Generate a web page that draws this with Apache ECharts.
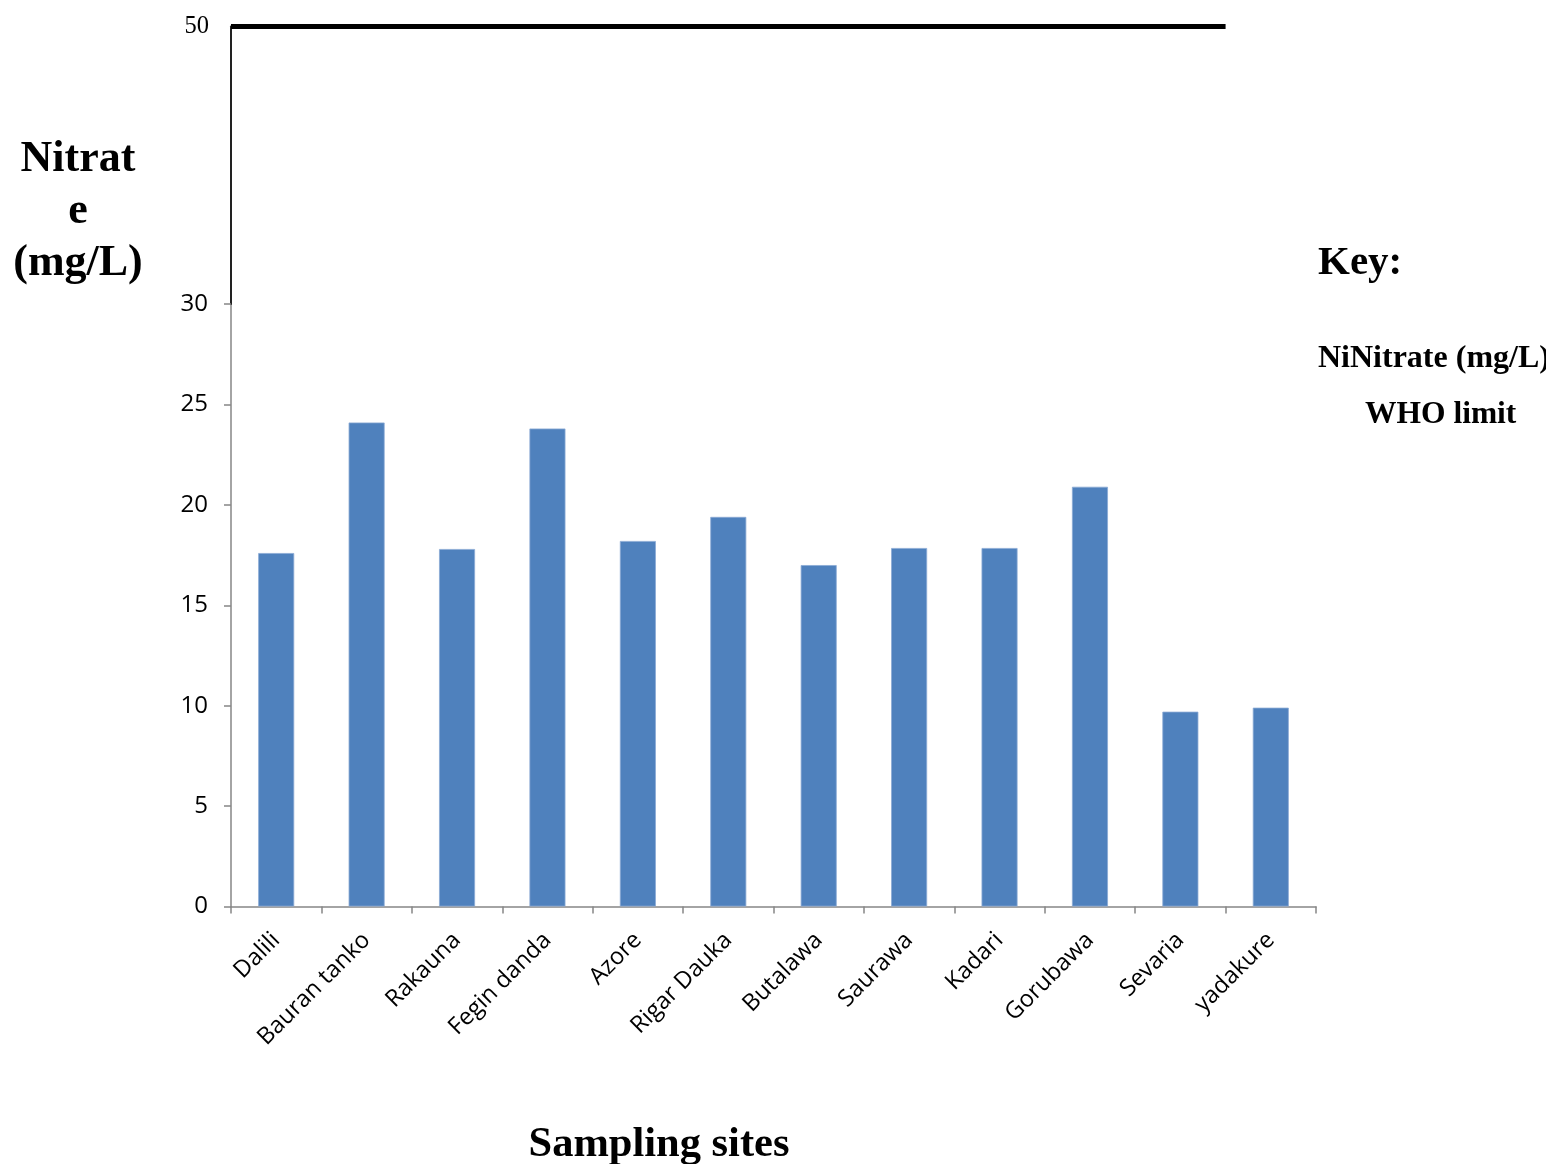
<!DOCTYPE html>
<html>
<head>
<meta charset="utf-8">
<script src="https://cdn.jsdelivr.net/npm/echarts@6/dist/echarts.min.js"></script>
<style>
html,body{margin:0;padding:0;background:#fff;}
#chart{width:1546px;height:1164px;}
</style>
</head>
<body>
<div id="chart"></div>
<script>
var categories = ['Dalili','Bauran tanko','Rakauna','Fegin danda','Azore','Rigar Dauka','Butalawa','Saurawa','Kadari','Gorubawa','Sevaria','yadakure'];
var nitrateValues = [17.6, 24.1, 17.8, 23.8, 18.2, 19.4, 17.0, 17.85, 17.85, 20.9, 9.7, 9.9];
var yTicks = [0, 30, 5];
var whoLimit = 50;
var whoLimitSpan = [0, 11];

var chart = echarts.init(document.getElementById('chart'));
var serif = '"Liberation Serif", "Times New Roman", serif';
var sans = '"Open Sans", sans-serif';

chart.setOption({
  backgroundColor: '#fff',
  animation: false,
  grid: [
    {left: 231, width: 1085, top: 304, height: 602.5},
    {left: 231, width: 1085, top: 26.5, height: 277.5}
  ],
  xAxis: [
    {
      type: 'category', gridIndex: 0, data: categories, boundaryGap: true,
      axisLine: {show: true, lineStyle: {color: '#868686', width: 1.5}},
      axisTick: {show: true, length: 7, lineStyle: {color: '#868686', width: 1.5}},
      axisLabel: {rotate: 45, fontFamily: sans, fontSize: 23.5, color: '#000', margin: 30, interval: 0},
      splitLine: {show: false}
    },
    {type: 'value', gridIndex: 1, min: 0, max: categories.length, show: false}
  ],
  yAxis: [
    {
      type: 'value', gridIndex: 0, min: yTicks[0], max: yTicks[1], interval: yTicks[2],
      axisLine: {show: true, lineStyle: {color: '#868686', width: 1.5}},
      axisTick: {show: true, length: 7, lineStyle: {color: '#868686', width: 1.5}},
      axisLabel: {fontFamily: sans, fontSize: 24, color: '#000', margin: 23},
      splitLine: {show: false}
    },
    {
      type: 'value', gridIndex: 1, min: 30, max: whoLimit, interval: 10,
      axisLine: {show: true, lineStyle: {color: '#222', width: 2}},
      axisTick: {show: false},
      axisLabel: {fontFamily: serif, fontSize: 24.5, color: '#000', margin: 22,
        formatter: function (v) { return v === whoLimit ? String(v) : ''; }},
      splitLine: {show: false}
    }
  ],
  series: [
    {
      name: 'Nitrate (mg/L)', type: 'bar', xAxisIndex: 0, yAxisIndex: 0,
      data: nitrateValues, barWidth: 36,
      itemStyle: {color: '#4F81BD', borderColor: '#8aa9d4', borderWidth: 0.8}
    },
    {
      name: 'WHO limit', type: 'line', xAxisIndex: 1, yAxisIndex: 1,
      data: [[whoLimitSpan[0], whoLimit], [whoLimitSpan[1], whoLimit]],
      symbol: 'none', clip: false,
      lineStyle: {color: '#000', width: 5, cap: 'butt'}
    }
  ],
  graphic: [
    {type: 'text', x: 78, y: 212, style: {text: 'Nitrat\ne\n(mg/L)', font: 'bold 44px ' + serif, fill: '#000', align: 'center', verticalAlign: 'middle', lineHeight: 52}},
    {type: 'text', x: 1318, y: 263, style: {text: 'Key:', font: 'bold 41px ' + serif, fill: '#000', align: 'left', verticalAlign: 'middle'}},
    {type: 'text', x: 1318, y: 359, style: {text: 'NiNitrate (mg/L)', font: 'bold 32px ' + serif, fill: '#000', align: 'left', verticalAlign: 'middle'}},
    {type: 'text', x: 1365, y: 415, style: {text: 'WHO limit', font: 'bold 31.5px ' + serif, fill: '#000', align: 'left', verticalAlign: 'middle'}},
    {type: 'text', x: 659, y: 1145, style: {text: 'Sampling sites', font: 'bold 42.5px ' + serif, fill: '#000', align: 'center', verticalAlign: 'middle'}}
  ]
});
</script>
</body>
</html>
